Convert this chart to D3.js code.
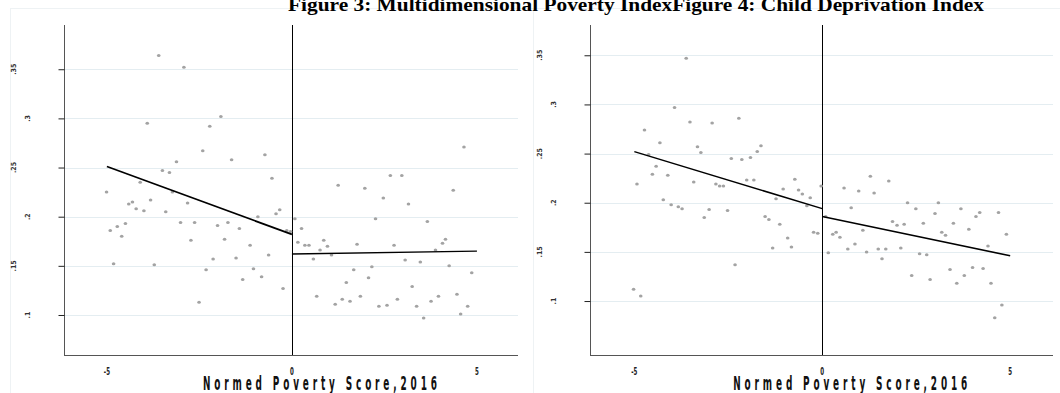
<!DOCTYPE html>
<html>
<head>
<meta charset="utf-8">
<script src="https://cdn.jsdelivr.net/npm/d3@7"></script>
<style>
  html, body { margin: 0; padding: 0; background: #fff; }
  svg { display: block; }
</style>
</head>
<body>
<div id="chart"></div>
<script>
// ---- data ----
const title = "Figure 3: Multidimensional Poverty IndexFigure 4: Child Deprivation Index";
const xTitle = "Normed Poverty Score,2016";
const xTicks = [-5, 0, 5];
const yTicks = [0.1, 0.15, 0.2, 0.25, 0.3, 0.35];
const yTickLabels = [".1", ".15", ".2", ".25", ".3", ".35"];

// Figure 3: multidimensional poverty index vs normed poverty score
const mpiPoints = [
  [-3.60,.364],[-2.92,.352],[-3.91,.295],[-2.22,.292],[-1.92,.302],[-2.41,.267],[-1.63,.258],[-0.73,.263],
  [-3.12,.256],[-3.50,.247],[-3.31,.245],[-0.54,.239],[-4.10,.235],[-5.01,.225],[-4.41,.213],[-4.31,.215],
  [-4.21,.208],[-4.00,.206],[-3.82,.217],[-3.23,.225],[-3.41,.205],[-2.82,.214],[-3.01,.194],[-2.63,.194],
  [-4.91,.186],[-4.72,.190],[-4.50,.193],[-4.60,.180],[-4.82,.152],[-3.72,.151],[-2.73,.176],[-2.01,.191],
  [-1.73,.194],[-1.42,.188],[-1.82,.177],[-2.13,.157],[-2.32,.146],[-1.51,.158],[-1.13,.171],[-1.04,.147],
  [-0.82,.139],[-1.33,.136],[-0.63,.161],[-0.24,.127],[-2.51,.113],[-0.92,.200],[-0.43,.203],[-0.33,.207],
  [-0.14,.186],[-0.04,.185],[0.08,.198],[0.16,.174],
  [4.65,.271],[2.66,.242],[2.97,.242],[1.25,.232],[1.97,.229],[4.36,.227],[2.47,.219],[3.15,.213],
  [2.26,.198],[3.66,.195],[0.26,.188],[0.86,.176],[0.35,.171],[0.46,.171],[0.76,.166],[0.96,.170],
  [1.07,.161],[1.76,.172],[2.76,.171],[4.15,.177],[4.07,.173],[3.88,.166],[0.58,.157],[3.06,.156],
  [3.47,.154],[4.25,.150],[4.86,.143],[1.67,.146],[2.16,.149],[1.47,.133],[2.07,.138],[3.25,.129],
  [0.67,.119],[1.36,.116],[1.17,.111],[1.57,.114],[1.85,.119],[2.35,.109],[2.57,.110],[2.85,.116],
  [3.37,.109],[3.76,.114],[3.96,.119],[4.46,.121],[4.75,.109],[4.56,.101],[3.56,.097]
];
const mpiFitLeft = [[-5, 0.251], [0, 0.182]];
const mpiFitRight = [[0, 0.162], [5, 0.165]];

// Figure 4: child deprivation index vs normed poverty score
const cdiPoints = [
  [-3.62,.347],[-3.93,.297],[-3.52,.282],[-2.93,.281],[-2.22,.286],[-4.73,.274],[-4.32,.261],[-3.32,.257],
  [-3.23,.251],[-4.62,.249],[-1.63,.258],[-1.73,.252],[-2.42,.245],[-2.14,.244],[-1.91,.246],[-4.42,.237],
  [-4.52,.229],[-4.11,.228],[-4.93,.219],[-3.42,.221],[-2.83,.219],[-2.73,.217],[-2.63,.217],[-2.01,.223],
  [-1.82,.223],[-0.73,.224],[-1.04,.214],[-0.63,.213],[-0.03,.217],[-4.23,.203],[-4.02,.198],[-3.83,.196],
  [-3.73,.194],[-3.01,.193],[-3.14,.185],[-2.52,.192],[-1.23,.204],[-0.53,.209],[-0.32,.205],[-0.41,.197],
  [-1.52,.186],[-1.42,.183],[-1.13,.178],[-0.92,.164],[-0.23,.170],[-0.12,.169],[-1.32,.154],[-0.82,.155],
  [-2.32,.137],[-5.02,.112],[-4.83,.105],
  [0.09,.186],[0.16,.149],[0.58,.215],[0.97,.212],[1.28,.227],[1.38,.210],[1.77,.222],[0.77,.195],
  [0.28,.168],[0.37,.170],[0.47,.165],[1.08,.172],[0.68,.153],[0.87,.158],[1.18,.150],[1.49,.153],
  [1.69,.153],[1.59,.143],[1.87,.181],[1.99,.177],[2.18,.178],[2.09,.154],[2.27,.200],[2.49,.194],
  [2.69,.179],[3.09,.200],[3.00,.189],[3.18,.170],[3.28,.167],[3.49,.179],[3.69,.194],[4.09,.186],
  [4.19,.190],[4.69,.190],[3.90,.173],[4.90,.168],[4.41,.156],[2.59,.148],[2.78,.147],[2.38,.126],
  [2.87,.122],[3.40,.132],[3.58,.118],[3.78,.126],[4.00,.134],[4.28,.133],[4.49,.118],[4.78,.096],
  [4.59,.083]
];
const cdiFitLeft = [[-5, 0.252], [0, 0.194]];
const cdiFitRight = [[0, 0.186], [5, 0.146]];

// ---- layout ----
const width = 1060, height = 393;
const plotTop = 25, plotBottom = 355;

const panels = [
  { left: 64, right: 518, frameX: 10, xDomain: [-6.16, 6.11], yDomain: [0.0593, 0.395],
    points: mpiPoints, fits: [mpiFitLeft, mpiFitRight], fitWidth: [1.7, 1.4] },
  { left: 590, right: 1053, frameX: 533, xDomain: [-6.18, 6.14], yDomain: [0.0451, 0.3808],
    points: cdiPoints, fits: [cdiFitLeft, cdiFitRight], fitWidth: [1.5, 1.5] }
];

const svg = d3.select("#chart").append("svg")
  .attr("width", width)
  .attr("height", height);

// faint outer frame lines of the two graph panels
svg.append("line")
  .attr("x1", 10).attr("x2", width).attr("y1", 8.5).attr("y2", 8.5)
  .attr("stroke", "#eef2f4").attr("stroke-width", 1);

panels.forEach(p => {
  const x = d3.scaleLinear().domain(p.xDomain).range([p.left, p.right]);
  const y = d3.scaleLinear().domain(p.yDomain).range([plotBottom, plotTop]);
  const g = svg.append("g");

  g.append("line")
    .attr("x1", p.frameX + 0.5).attr("x2", p.frameX + 0.5)
    .attr("y1", 8.5).attr("y2", height)
    .attr("stroke", "#eef2f4");

  // gridlines
  g.append("g").selectAll("line")
    .data(yTicks)
    .join("line")
      .attr("x1", p.left).attr("x2", p.right)
      .attr("y1", d => Math.round(y(d)) + 0.5)
      .attr("y2", d => Math.round(y(d)) + 0.5)
      .attr("stroke", "#e4edf1")
      .attr("stroke-width", 1);

  // y axis
  const yAxis = d3.axisLeft(y)
    .tickValues(yTicks)
    .tickFormat("")
    .tickSize(6)
    .tickSizeOuter(0);
  const ya = g.append("g")
    .attr("transform", `translate(${p.left + 0.5},0)`)
    .call(yAxis);
  ya.select(".domain").attr("stroke", "#555").attr("d", `M0,${plotTop}V${plotBottom}`);
  ya.selectAll(".tick line").attr("stroke", "#222");

  // rotated tick labels, staggered like the original
  g.append("g").selectAll("text")
    .data(yTicks)
    .join("text")
      .attr("transform", (d, i) => `translate(${i % 2 === 0 ? p.left - 36 : p.left - 50},${y(d)}) rotate(-90)`)
      .attr("text-anchor", "middle")
      .attr("dy", "0.35em")
      .attr("font-family", "DejaVu Sans Condensed, DejaVu Sans, sans-serif")
      .attr("font-weight", "bold")
      .attr("font-size", 7)
      .attr("fill", "#333")
      .text((d, i) => yTickLabels[i]);

  // x axis
  const xAxis = d3.axisBottom(x)
    .tickValues(xTicks)
    .tickFormat("")
    .tickSize(0)
    .tickSizeOuter(0);
  const xa = g.append("g")
    .attr("transform", `translate(0,${plotBottom + 0.5})`)
    .call(xAxis);
  xa.select(".domain").attr("stroke", "#555").attr("d", `M${p.left},0H${p.right}`);

  g.append("g").selectAll("text")
    .data(xTicks)
    .join("text")
      .attr("transform", d => `translate(${x(d)},${plotBottom + 20}) scale(0.5,1)`)
      .attr("text-anchor", "middle")
      .attr("font-family", "DejaVu Sans, sans-serif")
      .attr("font-weight", "bold")
      .attr("font-size", 11)
      .attr("fill", "#222")
      .text(d => d === -5 ? "-5" : d);

  // x axis title: narrow glyphs, wide spacing
  const tx = x(0) + 28;
  g.append("text")
    .attr("transform", `translate(${tx},${plotBottom + 34.5}) scale(0.47,1)`)
    .attr("text-anchor", "middle")
    .attr("font-family", "DejaVu Sans, sans-serif")
    .attr("font-weight", "bold")
    .attr("font-size", 19)
    .attr("fill", "#111")
    .attr("textLength", 234 / 0.47)
    .attr("lengthAdjust", "spacing")
    .text(xTitle);

  // cutoff line at zero
  g.append("line")
    .attr("x1", Math.round(x(0)) + 0.5).attr("x2", Math.round(x(0)) + 0.5)
    .attr("y1", plotTop).attr("y2", plotBottom)
    .attr("stroke", "#000").attr("stroke-width", 1);

  // scatter
  g.append("g").selectAll("ellipse")
    .data(p.points)
    .join("ellipse")
      .attr("cx", d => x(d[0]))
      .attr("cy", d => y(d[1]))
      .attr("rx", 1.8)
      .attr("ry", 1.5)
      .attr("fill", "#a3a3a3");

  // fitted lines on each side of the cutoff
  const line = d3.line().x(d => x(d[0])).y(d => y(d[1]));
  p.fits.forEach((f, i) => {
    g.append("path")
      .attr("d", line(f))
      .attr("fill", "none")
      .attr("stroke", "#000")
      .attr("stroke-width", p.fitWidth[i]);
  });
});

// figure title (clipped at the top edge in the original)
svg.append("text")
  .attr("x", 288)
  .attr("y", 11)
  .attr("font-family", "Liberation Serif, Times New Roman, serif")
  .attr("font-weight", "bold")
  .attr("font-size", 19)
  .attr("fill", "#000")
  .attr("textLength", 696)
  .attr("lengthAdjust", "spacingAndGlyphs")
  .text(title);
</script>
</body>
</html>
